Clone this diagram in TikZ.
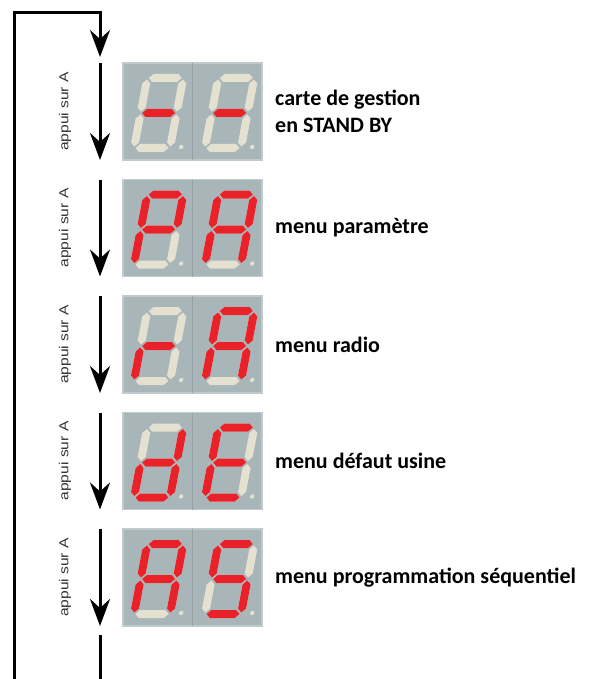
\documentclass[tikz,border=0pt]{standalone}
\usepackage{fontspec}
\setmainfont{Carlito}
\newfontfamily\arialfont{Liberation Sans}
\usetikzlibrary{positioning, arrows.meta}

\definecolor{panelgray}{RGB}{168,181,185}
\definecolor{paneledge}{RGB}{192,201,204}
\definecolor{paneldiv}{RGB}{150,162,166}
\definecolor{segpale}{RGB}{229,225,208}
\definecolor{segred}{RGB}{232,34,40}

\tikzset{
  segon/.style={fill=segred},
  segoff/.style={fill=segpale},
  panel/.style={rectangle, fill=panelgray, draw=paneledge, line width=1.2pt,
    minimum width=139pt, minimum height=97pt, inner sep=0pt, outer sep=0pt},
  flow/.style={line width=3pt, -{Stealth[length=27pt,width=20pt,inset=9pt]}},
  loopline/.style={line width=3pt},
  press/.style={font=\arialfont\fontsize{13}{15}\selectfont, text=black!80,
    rotate=90, inner sep=0pt},
  menu/.style={font=\bfseries\fontsize{22}{27}\selectfont, anchor=west,
    align=left, inner sep=0pt}
}

% one segment of a display, horizontal or vertical
\newcommand{\hseg}[4]{\fill[#4] (#1,#3) -- (#1+4,#3+4) -- (#2-4,#3+4) -- (#2,#3)
  -- (#2-4,#3-4) -- (#1+4,#3-4) -- cycle;}
\newcommand{\vseg}[4]{\fill[#4] (#1,#2) -- (#1+4,#2+4) -- (#1+4,#3-4) -- (#1,#3)
  -- (#1-4,#3-4) -- (#1-4,#2+4) -- cycle;}
\newcommand{\sga}[1]{\hseg{1.5}{34.5}{70}{#1}}
\newcommand{\sgb}[1]{\vseg{36}{36.5}{68.5}{#1}}
\newcommand{\sgc}[1]{\vseg{36}{1.5}{33.5}{#1}}
\newcommand{\sgd}[1]{\hseg{1.5}{34.5}{0}{#1}}
\newcommand{\sge}[1]{\vseg{0}{1.5}{33.5}{#1}}
\newcommand{\sgf}[1]{\vseg{0}{36.5}{68.5}{#1}}
\newcommand{\sgg}[1]{\hseg{1.5}{34.5}{35}{#1}}

% #1 panel node, #2 x offset in the panel, #3 lit segments
\newcommand{\sevenseg}[3]{%
  \begin{scope}[shift={(#1.south west)}, x=1pt, y=1pt, shift={(#2,12)}, xslant=0.19]
    \foreach \s in {a,b,c,d,e,f,g} {\csname sg\s\endcsname{segoff}}
    \foreach \s in {#3} {\csname sg\s\endcsname{segon}}
    \fill[segoff] (47,1) circle (2.2);
  \end{scope}}

\begin{document}
\begin{tikzpicture}[x=1pt, y=-1pt, node distance=19.5pt]
  \useasboundingbox (0,0) rectangle (593,679);

  % displays
  \node[panel] (p1) at (192.5,111.5) {};
  \node[panel] (p2) [below=of p1] {};
  \node[panel] (p3) [below=of p2] {};
  \node[panel] (p4) [below=of p3] {};
  \node[panel] (p5) [below=of p4] {};
  \foreach \i in {1,...,5}
    \draw[paneldiv, line width=0.8pt] (p\i.north) -- (p\i.south);

  \sevenseg{p1}{11}{g}            \sevenseg{p1}{82}{g}
  \sevenseg{p2}{11}{a,b,e,f,g}    \sevenseg{p2}{82}{a,b,c,e,f,g}
  \sevenseg{p3}{11}{e,g}          \sevenseg{p3}{82}{a,b,c,e,f,g}
  \sevenseg{p4}{11}{b,c,d,e,g}    \sevenseg{p4}{82}{a,d,e,f,g}
  \sevenseg{p5}{11}{a,b,c,e,f,g}  \sevenseg{p5}{82}{a,c,d,f,g}

  % texts
  \node[menu] (m1) at ([xshift=13pt]p1.east) {carte de gestion\\en STAND BY};
  \node[menu] (m2) at ([xshift=13pt]p2.east) {menu paramètre};
  \node[menu] (m3) at ([xshift=13pt]p3.east) {menu radio};
  \node[menu] (m4) at ([xshift=13pt]p4.east) {menu défaut usine};
  \node[menu] (m5) at ([xshift=13pt]p5.east) {menu programmation séquentiel};
  \foreach \i in {1,...,5}
    \node[press] (a\i) at ([xshift=-58pt]p\i.west) {\scalebox{1.2}[1]{appui sur A}};

  % loop
  \coordinate (ltop) at (100,13);
  \coordinate (lbot) at (14,679);
  \coordinate (entry) at (100,57);
  \coordinate (exit) at (100,635);
  \coordinate (exitend) at (100,679);
  \draw[flow] (lbot) |- (ltop) -- (entry);
  \foreach \i in {1,...,5}
    \draw[flow] (p\i.north -| ltop) -- (p\i.south -| ltop);
  \draw[loopline] (exit) -- (exitend);
\end{tikzpicture}
\end{document}
